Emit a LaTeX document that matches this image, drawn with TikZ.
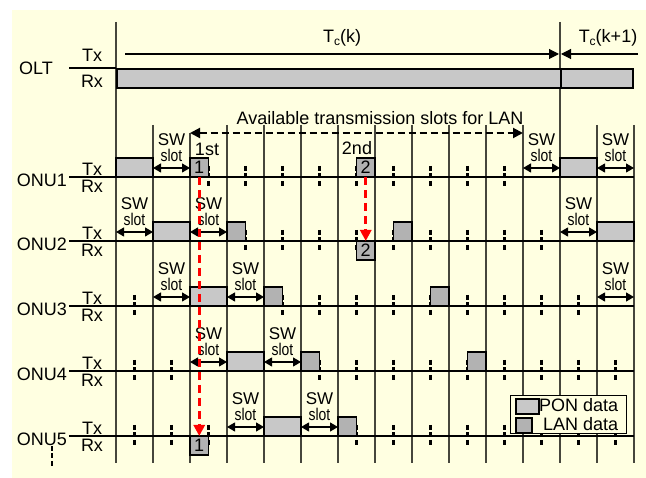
\documentclass[tikz,border=0pt]{standalone}
\usepackage{fontspec}
\usepackage{graphicx}
\setmainfont{Liberation Sans}
\usetikzlibrary{arrows.meta}
\definecolor{bgc}{RGB}{255,255,225}
\definecolor{poncol}{RGB}{200,200,200}
\definecolor{lancol}{RGB}{178,178,178}
\definecolor{gridc}{RGB}{70,70,60}
\begin{document}
\begin{tikzpicture}[x=1pt,y=-1pt,
  font=\fontsize{18}{20}\selectfont,
  gridline/.style={gridc, line width=1.2pt},
  axisline/.style={black, line width=1.2pt},
  ponbox/.style={draw, line width=1.6pt, fill=poncol, minimum width=37pt, minimum height=19pt, inner sep=0pt, outer sep=0pt},
  lanbox/.style={draw, line width=1.6pt, fill=lancol, minimum width=18.5pt, minimum height=19pt, inner sep=0pt, outer sep=0pt},
  lantick/.style={line width=2.4pt, dash pattern=on 5pt off 2.5pt, black},
  swarr/.style={line width=1.1pt, {Triangle[length=8pt,width=9pt]}-{Triangle[length=8pt,width=9pt]}},
  swlbl/.style={inner sep=0pt, font=\fontsize{17}{17}\selectfont},
  redarrow/.style={red, line width=3pt, dash pattern=on 8pt off 5pt, -{Triangle[length=11pt,width=11pt]}},
  lbl/.style={inner sep=0pt},
]
\useasboundingbox (0,0) rectangle (646,478);
\fill[bgc] (12,10) rectangle (646,478);

% grid lines
\draw[gridline] (116,22) -- (116,463);
\draw[gridline] (560,22) -- (560,463);
\draw[gridline] (190,133) -- (190,463);
\foreach \i in {1,3,4,5,6,7,8,9,10,11,13,14}
  \draw[gridline] ({116+37*\i},125) -- ({116+37*\i},463);

% OLT
\node[lbl] (olt) at (36,68) {OLT};
\node[lbl] (olttx) at (92,55) {Tx};
\node[lbl] (oltrx) at (92,81) {Rx};
\draw[axisline] (69,68) -- (116,68);
\node[draw, line width=1.6pt, fill=poncol, minimum width=444pt, minimum height=19pt, inner sep=0pt, anchor=north west] (bar1) at (116,68) {};
\node[draw, line width=1.6pt, fill=poncol, minimum width=72pt, minimum height=19pt, inner sep=0pt, anchor=north west] (bar2) at (560,68) {};
\coordinate (tcs) at (125,54);
\coordinate (tcm) at (559,54);
\coordinate (tcm2) at (561,54);
\coordinate (tce) at (638,54);
\draw[line width=1.1pt, -{Triangle[length=10pt,width=10pt]}] (tcs) -- (tcm);
\draw[line width=1.1pt, -{Triangle[length=10pt,width=10pt]}] (tce) -- (tcm2);
\node[lbl] (tck) at (342,38) {T\raisebox{-2.5pt}{\fontsize{12}{12}\selectfont c}(k)};
\node[lbl] (tck1) at (608,38) {T\raisebox{-2.5pt}{\fontsize{12}{12}\selectfont c}(k+1)};

% ONU labels and axes
\foreach \n/\y in {1/177,2/241,3/306,4/371,5/436}{
  \node[lbl, anchor=east] (onu\n) at (67,{\y+3}) {ONU\n};
  \node[lbl] (tx\n) at (92,{\y-8}) {Tx};
  \node[lbl] (rx\n) at (92,{\y+9}) {Rx};
  \draw[axisline] (69,\y) -- (634,\y);
}
\draw[lantick] (52,446) -- (52,468);

% ticks
\foreach \i in {2,...,10} \draw[lantick] ({134.5+37*\i},166) -- ({134.5+37*\i},188);
\foreach \i in {3,...,11} \draw[lantick] ({134.5+37*\i},230) -- ({134.5+37*\i},252);
\foreach \i in {0,4,5,6,7,8,9,10,11,12} \draw[lantick] ({134.5+37*\i},295) -- ({134.5+37*\i},317);
\foreach \i in {0,1,5,6,7,8,9,10,11,12,13} \draw[lantick] ({134.5+37*\i},360) -- ({134.5+37*\i},382);
\foreach \i in {0,1,2,6,7,8,9,10,11,12,13} \draw[lantick] ({134.5+37*\i},425) -- ({134.5+37*\i},447);

% PON boxes
\node[ponbox, anchor=south west] (p1a) at (116,177) {};
\node[ponbox, anchor=south west] (p1b) at (560,177) {};
\node[ponbox, anchor=south west] (p2a) at (153,241) {};
\node[ponbox, anchor=south west] (p2b) at (597,241) {};
\node[ponbox, anchor=south west] (p3a) at (190,306) {};
\node[ponbox, anchor=south west] (p4a) at (227,371) {};
\node[ponbox, anchor=south west] (p5a) at (264,436) {};

% LAN boxes
\node[lanbox, anchor=south west] (l1a) at (190,177) {1};
\node[lanbox, anchor=south west] (l1b) at (356.5,177) {2};
\node[lanbox, anchor=south west] (l2a) at (227,241) {};
\node[lanbox, anchor=north west] (l2rx) at (356.5,241) {2};
\node[lanbox, anchor=south west] (l2b) at (393.5,241) {};
\node[lanbox, anchor=south west] (l3a) at (264,306) {};
\node[lanbox, anchor=south west] (l3b) at (430.5,306) {};
\node[lanbox, anchor=south west] (l4a) at (301,371) {};
\node[lanbox, anchor=south west] (l4b) at (467.5,371) {};
\node[lanbox, anchor=south west] (l5a) at (338,436) {};
\node[lanbox, anchor=north west] (l5rx) at (190,436) {1};

% SW slots
\foreach \y/\i in {177/1,177/11,177/13,241/0,241/2,241/12,306/1,306/3,306/13,371/2,371/4,436/3,436/5}{
  \draw[swarr] ({116+37*\i},{\y-9}) -- ({153+37*\i},{\y-9});
  \node[swlbl] at ({134.5+37*\i},{\y-37.5}) {SW};
  \node[swlbl] at ({134.5+37*\i},{\y-22}) {\scalebox{0.82}[1]{slot}};
}

% available slots
\coordinate (avs) at (190,133);
\coordinate (ave) at (523,133);
\draw[line width=2pt, dash pattern=on 7pt off 4pt, {Triangle[length=10pt,width=10pt]}-{Triangle[length=10pt,width=10pt]}] (avs) -- (ave);
\node[lbl, anchor=base] (avail) at (380,125) {Available transmission slots for LAN};
\node[lbl] (first) at (207,149) {1st};
\node[lbl] (second) at (357,148) {2nd};

% red arrows
\draw[redarrow] (l1a.south) -- (l5rx.north);
\draw[redarrow] (l1b.south) -- (l2rx.north);

% legend
\node[draw, fill=bgc, line width=1.1pt, minimum width=116pt, minimum height=38pt, inner sep=0pt, anchor=north west] (legend) at (510,395) {};
\node[draw, line width=1.6pt, fill=poncol, minimum width=23pt, minimum height=15pt, inner sep=0pt, anchor=north west] (legp) at (515,398) {};
\node[draw, line width=1.6pt, fill=lancol, minimum width=16pt, minimum height=15pt, inner sep=0pt, anchor=north west] (legl) at (515,417) {};
\node[lbl, anchor=west] (legpt) at (539,405) {PON data};
\node[lbl, anchor=west] (leglt) at (543,424) {LAN data};
\end{tikzpicture}
\end{document}
